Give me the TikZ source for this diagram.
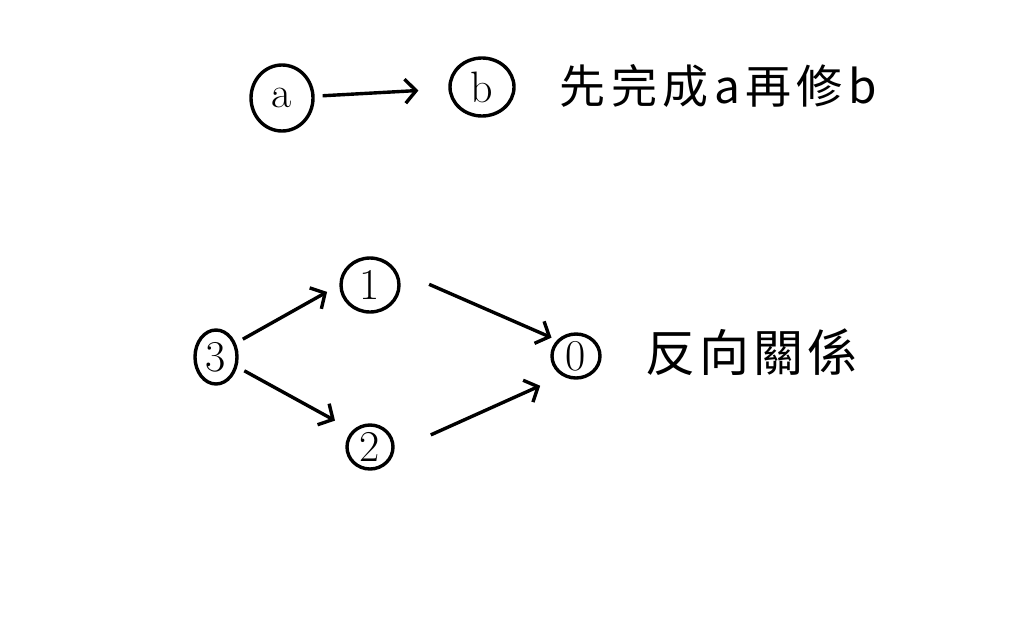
\documentclass[tikz,border=0pt]{standalone}
\usepackage{fontspec}
\newfontfamily\cjk{Noto Sans CJK TC}
\usetikzlibrary{arrows.meta,shapes.geometric}
\begin{document}
\begin{tikzpicture}[x=1pt,y=-1pt,
  vert/.style={draw,ellipse,line width=3.4pt,inner sep=0pt,font=\fontsize{44}{46}\selectfont},
  edge/.style={line width=3.4pt,-{Straight Barb[length=11pt,width=24pt,line width=3.4pt]},shorten <=8pt,shorten >=12pt},
  lbl/.style={anchor=west}]
\useasboundingbox[fill=white] (0,0) rectangle (1024,640);
\node[vert,minimum width=62pt,minimum height=66pt] (a) at (282,98) {a};
\node[vert,minimum width=64pt,minimum height=58pt] (b) at (482,87) {b};
\node[lbl,font=\cjk\fontsize{46}{48}\selectfont\addfontfeature{LetterSpace=12}] (t1) at (556,86) {先完成a再修b};
\node[vert,minimum width=58pt,minimum height=54pt] (n1) at (370,285) {1};
\node[vert,minimum width=42pt,minimum height=54pt] (n3) at (216,357) {3};
\node[vert,minimum width=46pt,minimum height=44pt] (n2) at (370,447) {2};
\node[vert,minimum width=48pt,minimum height=44pt] (n0) at (576,356) {0};
\node[lbl,font=\cjk\fontsize{50}{52}\selectfont\addfontfeature{LetterSpace=8}] (t2) at (642,352) {反向關係};
\draw[edge,shorten >=30pt] (a) -- (b);
\draw[edge,shorten >=14pt] (n3.35) -- (n1.west);
\draw[edge,shorten >=20pt] (n3.-25) -- (n2.north west);
\draw[edge,shorten <=36pt,shorten >=6pt] (n1.30) -- (n0.140);
\draw[edge,shorten <=40pt,shorten >=24pt] (n2.-10) -- (n0.235);
\end{tikzpicture}
\end{document}
